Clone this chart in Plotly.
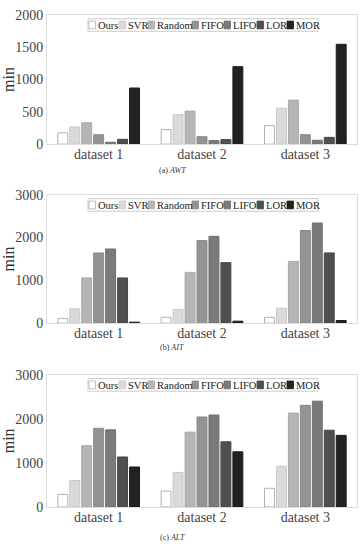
import plotly.graph_objects as go

# ---------------- data ----------------
datasets = ["dataset 1", "dataset 2", "dataset 3"]
methods = ["Ours", "SVR", "Random", "FIFO", "LIFO", "LOR", "MOR"]

awt = {
    "Ours":   [176, 225, 286],
    "SVR":    [266, 456, 556],
    "Random": [331, 511, 681],
    "FIFO":   [146, 115, 146],
    "LIFO":   [30, 55, 60],
    "LOR":    [75, 70, 105],
    "MOR":    [868, 1198, 1544],
}
ait = {
    "Ours":   [106, 137, 137],
    "SVR":    [334, 319, 349],
    "Random": [1056, 1185, 1443],
    "FIFO":   [1640, 1929, 2165],
    "LIFO":   [1732, 2028, 2339],
    "LOR":    [1056, 1413, 1640],
    "MOR":    [23, 46, 61],
}
alt = {
    "Ours":   [285, 359, 424],
    "SVR":    [600, 783, 922],
    "Random": [1390, 1698, 2129],
    "FIFO":   [1785, 2041, 2305],
    "LIFO":   [1749, 2085, 2400],
    "LOR":    [1134, 1478, 1741],
    "MOR":    [907, 1251, 1624],
}
captions = ["(a) <i>AWT</i>", "(b) <i>AIT</i>", "(c) <i>ALT</i>"]
y_ranges = [[0, 2000], [0, 3000], [0, 3000]]
y_ticks = [[0, 500, 1000, 1500, 2000], [0, 1000, 2000, 3000], [0, 1000, 2000, 3000]]

# ---------------- style ----------------
W, H = 363, 550
colors = ["#ffffff", "#dadada", "#b5b5b5", "#939393", "#7a7a7a", "#4f4f4f", "#222222"]
outlines = ["#b0b0b0", "#c8c8c8", "#a8a8a8", "#888888", "#6e6e6e", "#474747", "#1c1c1c"]
FONT = "Liberation Serif"
# panel pixel boxes (top, bottom) in page px
panels_px = [(8, 141), (193, 325), (378, 514)]
caption_px = [168, 350, 545]
plot_left, plot_right = 47, 357
legend_x_px = [89, 119, 148, 192, 224, 257, 287]
legend_right_px = 318

fig = go.Figure()
panels = [awt, ait, alt]
for p, data in enumerate(panels):
    suffix = "" if p == 0 else str(p + 1)
    for m, name in enumerate(methods):
        fig.add_trace(go.Bar(
            x=datasets, y=data[name], name=name,
            marker=dict(color=colors[m], line=dict(color=outlines[m], width=1)),
            xaxis="x" + suffix, yaxis="y" + suffix, showlegend=False,
        ))

def py(v):
    return 1 - v / H

def px(v):
    return v / W

layout = dict(
    width=W, height=H,
    margin=dict(l=0, r=0, t=0, b=0),
    paper_bgcolor="white", plot_bgcolor="white",
    barmode="group", bargap=0.19, bargroupgap=0.17,
    font=dict(family=FONT, color="#333333"),
    showlegend=False,
)
shapes = []
annotations = []
for p in range(3):
    suffix = "" if p == 0 else str(p + 1)
    top, bot = panels_px[p]
    layout["xaxis" + suffix] = dict(
        domain=[px(plot_left), px(plot_right)], anchor="y" + suffix,
        showline=True, linecolor="#dddddd", linewidth=1, mirror=True,
        showgrid=False, ticks="", ticklabelstandoff=-3,
        tickfont=dict(size=14, family=FONT, color="#444444"),
    )
    layout["yaxis" + suffix] = dict(
        domain=[py(bot), py(top)], anchor="x" + suffix,
        range=y_ranges[p], tickvals=y_ticks[p],
        showline=True, linecolor="#dddddd", linewidth=1, mirror=True,
        showgrid=False, zeroline=False, ticks="",
        tickfont=dict(size=14, family=FONT, color="#444444"),
        title=dict(text="min", font=dict(size=16, family=FONT, color="#333333"), standoff=4),
    )
    annotations.append(dict(
        text=captions[p], x=px(172), y=py(caption_px[p]), xref="paper", yref="paper",
        showarrow=False, font=dict(size=8, family=FONT, color="#333333"),
        xanchor="center", yanchor="middle",
    ))
    # legend box
    lt, lb = top + 4, top + 17
    shapes.append(dict(type="rect", xref="paper", yref="paper",
                       x0=px(88), x1=px(legend_right_px), y0=py(lb), y1=py(lt),
                       line=dict(color="#cccccc", width=1), fillcolor="white"))
    for m, name in enumerate(methods):
        x0 = legend_x_px[m]
        shapes.append(dict(type="rect", xref="paper", yref="paper",
                           x0=px(x0), x1=px(x0 + 6.5), y0=py(lt + 10.5), y1=py(lt + 2.5),
                           line=dict(color=outlines[m], width=0.8), fillcolor=colors[m]))
        annotations.append(dict(
            text=name, x=px(x0 + 7), y=py(lt + 6.7), xref="paper", yref="paper",
            showarrow=False, xanchor="left", yanchor="middle",
            font=dict(size=10.5, family=FONT, color="#222222"),
        ))

layout["shapes"] = shapes
layout["annotations"] = annotations
fig.update_layout(**layout)
fig.write_html("out.html", config={"displayModeBar": False},
               post_script="document.body.style.margin='0';")
